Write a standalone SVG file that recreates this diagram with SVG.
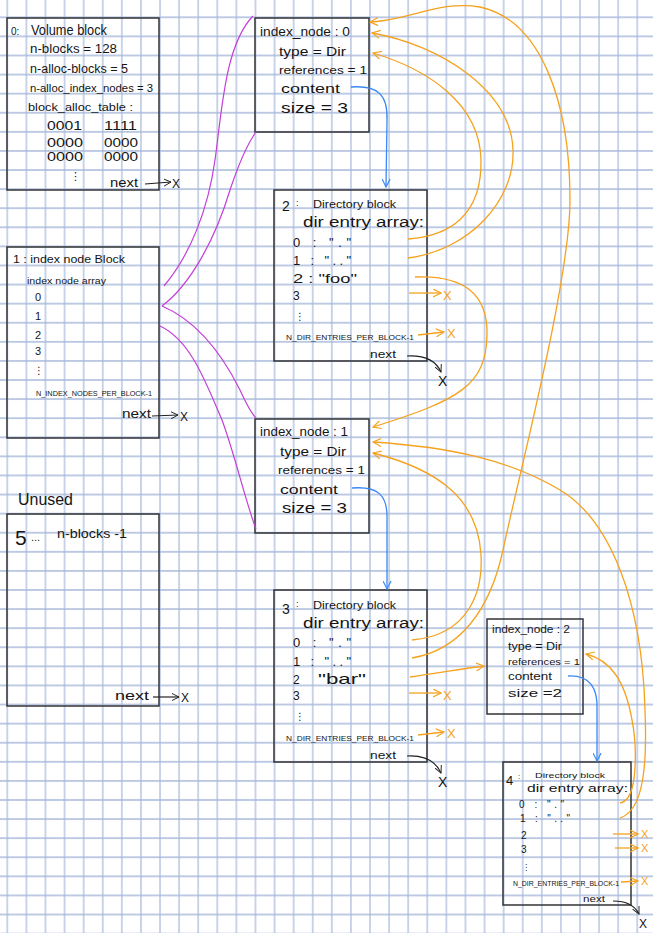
<svg xmlns="http://www.w3.org/2000/svg" width="653" height="933" viewBox="0 0 653 933">
<defs>
<pattern id="grid" x="-2.245" y="7.755" width="19.09" height="19.09" patternUnits="userSpaceOnUse">
<path d="M9.545,0 V19.09 M0,9.545 H19.09" stroke="#a6b8da" stroke-width="1.2" fill="none"/>
</pattern>
<marker id="ho" viewBox="0 0 10 10" refX="9" refY="5" markerWidth="9" markerHeight="9" markerUnits="userSpaceOnUse" orient="auto"><path d="M0,0.5 L9,5 L0,9.5" fill="none" stroke="#f5a21e" stroke-width="1.3"/></marker>
<marker id="hb" viewBox="0 0 10 10" refX="9" refY="5" markerWidth="9" markerHeight="9" markerUnits="userSpaceOnUse" orient="auto"><path d="M0,0.5 L9,5 L0,9.5" fill="none" stroke="#3b88f5" stroke-width="1.3"/></marker>
<marker id="hk" viewBox="0 0 10 10" refX="9" refY="5" markerWidth="8" markerHeight="8" markerUnits="userSpaceOnUse" orient="auto"><path d="M0,0.5 L9,5 L0,9.5" fill="none" stroke="#222" stroke-width="1.2"/></marker>
</defs>
<style>
.t{font-family:"Liberation Sans","DejaVu Sans",Arial,sans-serif;fill:#151515}
.d{font-family:"DejaVu Sans",sans-serif;fill:#151515}
.box{fill:none;stroke:#333;stroke-width:1.5}
.or{fill:none;stroke:#f5a21e;stroke-width:1.3}
.bl{fill:none;stroke:#3b88f5;stroke-width:1.3}
.pu{fill:none;stroke:#c23fd6;stroke-width:1.2}
.bk{fill:none;stroke:#222;stroke-width:1.2}
.ox{font-family:"Liberation Sans",Arial,sans-serif;fill:#f5a21e}
</style>
<rect width="653" height="933" fill="#ffffff"/>
<rect width="653" height="933" fill="url(#grid)"/>

<g id="volume-block">
<rect class="box" x="7" y="18" width="152" height="172"/>
<text class="t" x="11" y="35" font-size="10">0:</text>
<text class="t" x="31" y="35" font-size="14" textLength="76" lengthAdjust="spacingAndGlyphs">Volume block</text>
<text class="t" x="30" y="53" font-size="13" textLength="87" lengthAdjust="spacingAndGlyphs">n-blocks = 128</text>
<text class="t" x="30" y="73" font-size="12" textLength="98" lengthAdjust="spacingAndGlyphs">n-alloc-blocks = 5</text>
<text class="t" x="30" y="92" font-size="11" textLength="123" lengthAdjust="spacingAndGlyphs">n-alloc_index_nodes = 3</text>
<text class="t" x="28" y="111" font-size="11" textLength="105" lengthAdjust="spacingAndGlyphs">block_alloc_table :</text>
<text class="t" x="47" y="130" font-size="12" textLength="35" lengthAdjust="spacingAndGlyphs">0001</text>
<text class="t" x="104" y="130" font-size="12" textLength="33" lengthAdjust="spacingAndGlyphs">1111</text>
<text class="t" x="47" y="147" font-size="12" textLength="36" lengthAdjust="spacingAndGlyphs">0000</text>
<text class="t" x="104" y="147" font-size="12" textLength="34" lengthAdjust="spacingAndGlyphs">0000</text>
<text class="t" x="47" y="161" font-size="12" textLength="36" lengthAdjust="spacingAndGlyphs">0000</text>
<text class="t" x="104" y="161" font-size="12" textLength="34" lengthAdjust="spacingAndGlyphs">0000</text>
<text class="d" x="70" y="180" font-size="11">⋮</text>
<text class="t" x="110" y="187" font-size="13" textLength="28" lengthAdjust="spacingAndGlyphs">next</text>
<text class="t" x="172" y="188" font-size="12">X</text>
</g>

<g id="index-node-block">
<rect class="box" x="7" y="247" width="152" height="191"/>
<text class="t" x="13" y="263" font-size="11" textLength="112" lengthAdjust="spacingAndGlyphs">1 : index node Block</text>
<text class="t" x="27" y="284" font-size="9" textLength="79" lengthAdjust="spacingAndGlyphs">index node array</text>
<text class="t" x="35" y="301" font-size="11">0</text>
<text class="t" x="35" y="320" font-size="11">1</text>
<text class="t" x="35" y="339" font-size="11">2</text>
<text class="t" x="35" y="355" font-size="11">3</text>
<text class="d" x="34" y="374" font-size="10">⋮</text>
<text class="t" x="36" y="396" font-size="8" textLength="116" lengthAdjust="spacingAndGlyphs">N_INDEX_NODES_PER_BLOCK-1</text>
<text class="t" x="122" y="418" font-size="12" textLength="29" lengthAdjust="spacingAndGlyphs">next</text>
<text class="t" x="180" y="421" font-size="12">X</text>
</g>

<g id="unused">
<text class="t" x="18" y="505" font-size="16" textLength="55" lengthAdjust="spacingAndGlyphs">Unused</text>
<rect class="box" x="7" y="514" width="152" height="192"/>
<text class="t" x="15" y="545" font-size="21">5</text>
<text class="t" x="31" y="541" font-size="11">...</text>
<text class="t" x="57" y="538" font-size="13" textLength="70" lengthAdjust="spacingAndGlyphs">n-blocks -1</text>
<text class="t" x="115" y="700" font-size="13" textLength="34" lengthAdjust="spacingAndGlyphs">next</text>
<text class="t" x="181" y="702" font-size="12">X</text>
</g>

<g id="index-node-0">
<rect class="box" x="255" y="18" width="114" height="114"/>
<text class="t" x="260" y="36" font-size="12" textLength="90" lengthAdjust="spacingAndGlyphs">index_node : 0</text>
<text class="t" x="279" y="56" font-size="13" textLength="67" lengthAdjust="spacingAndGlyphs">type = Dir</text>
<text class="t" x="279" y="74" font-size="11" textLength="88" lengthAdjust="spacingAndGlyphs">references = 1</text>
<text class="t" x="281" y="93" font-size="12" textLength="59" lengthAdjust="spacingAndGlyphs">content</text>
<text class="t" x="281" y="113" font-size="15" textLength="67" lengthAdjust="spacingAndGlyphs">size = 3</text>
</g>

<g id="dir-block-2">
<rect class="box" x="274" y="190" width="153" height="171"/>
<text class="t" x="282" y="211" font-size="14">2</text>
<text class="t" x="296" y="206" font-size="9">:</text>
<text class="t" x="313" y="208" font-size="10" textLength="83" lengthAdjust="spacingAndGlyphs">Directory block</text>
<text class="t" x="303" y="227" font-size="14" textLength="121" lengthAdjust="spacingAndGlyphs">dir entry array:</text>
<text class="t" x="293" y="247" font-size="13" textLength="58" lengthAdjust="spacing">0 : "."</text>
<text class="t" x="293" y="265" font-size="13" textLength="58" lengthAdjust="spacing">1 : ".."</text>
<text class="t" x="293" y="283" font-size="12" textLength="64" lengthAdjust="spacingAndGlyphs">2 : "foo"</text>
<text class="t" x="293" y="300" font-size="12">3</text>
<text class="d" x="295" y="320" font-size="10">⋮</text>
<text class="t" x="286" y="340" font-size="8" textLength="128" lengthAdjust="spacingAndGlyphs">N_DIR_ENTRIES_PER_BLOCK-1</text>
<text class="t" x="370" y="358" font-size="10" textLength="26" lengthAdjust="spacingAndGlyphs">next</text>
<text class="t" x="438" y="386" font-size="14">X</text>
</g>

<g id="index-node-1">
<rect class="box" x="255" y="419" width="114" height="114"/>
<text class="t" x="260" y="436" font-size="12" textLength="88" lengthAdjust="spacingAndGlyphs">index_node : 1</text>
<text class="t" x="280" y="456" font-size="13" textLength="66" lengthAdjust="spacingAndGlyphs">type = Dir</text>
<text class="t" x="278" y="474" font-size="11" textLength="87" lengthAdjust="spacingAndGlyphs">references = 1</text>
<text class="t" x="280" y="494" font-size="12" textLength="58" lengthAdjust="spacingAndGlyphs">content</text>
<text class="t" x="282" y="513" font-size="15" textLength="65" lengthAdjust="spacingAndGlyphs">size = 3</text>
</g>

<g id="dir-block-3">
<rect class="box" x="274" y="590" width="153" height="172"/>
<text class="t" x="282" y="614" font-size="14">3</text>
<text class="t" x="296" y="607" font-size="9">:</text>
<text class="t" x="313" y="609" font-size="10" textLength="83" lengthAdjust="spacingAndGlyphs">Directory block</text>
<text class="t" x="303" y="628" font-size="14" textLength="121" lengthAdjust="spacingAndGlyphs">dir entry array:</text>
<text class="t" x="293" y="647" font-size="13" textLength="58" lengthAdjust="spacing">0 : "."</text>
<text class="t" x="293" y="666" font-size="13" textLength="58" lengthAdjust="spacing">1 : ".."</text>
<text class="t" x="293" y="684" font-size="12">2</text>
<text class="t" x="318" y="684" font-size="15" textLength="48" lengthAdjust="spacingAndGlyphs">"bar"</text>
<text class="t" x="293" y="700" font-size="12">3</text>
<text class="d" x="295" y="720" font-size="10">⋮</text>
<text class="t" x="286" y="741" font-size="8" textLength="128" lengthAdjust="spacingAndGlyphs">N_DIR_ENTRIES_PER_BLOCK-1</text>
<text class="t" x="370" y="759" font-size="10" textLength="26" lengthAdjust="spacingAndGlyphs">next</text>
<text class="t" x="438" y="787" font-size="14">X</text>
</g>

<g id="index-node-2">
<rect class="box" x="487" y="619" width="96" height="95"/>
<text class="t" x="492" y="633" font-size="10" textLength="78" lengthAdjust="spacingAndGlyphs">index_node : 2</text>
<text class="t" x="508" y="650" font-size="10" textLength="54" lengthAdjust="spacingAndGlyphs">type = Dir</text>
<text class="t" x="508" y="665" font-size="9" textLength="72" lengthAdjust="spacingAndGlyphs">references = 1</text>
<text class="t" x="508" y="680" font-size="10" textLength="44" lengthAdjust="spacingAndGlyphs">content</text>
<text class="t" x="508" y="697" font-size="11" textLength="54" lengthAdjust="spacingAndGlyphs">size =2</text>
</g>

<g id="dir-block-4">
<rect class="box" x="503" y="762" width="128" height="143"/>
<text class="t" x="506" y="785" font-size="13">4</text>
<text class="t" x="518" y="779" font-size="8">:</text>
<text class="t" x="535" y="778" font-size="8" textLength="70" lengthAdjust="spacingAndGlyphs">Directory block</text>
<text class="t" x="527" y="792" font-size="11" textLength="101" lengthAdjust="spacingAndGlyphs">dir entry array:</text>
<text class="t" x="519" y="808" font-size="10" textLength="45" lengthAdjust="spacing">0 : "."</text>
<text class="t" x="520" y="822" font-size="10" textLength="50" lengthAdjust="spacing">1 : ".."</text>
<text class="t" x="521" y="839" font-size="10">2</text>
<text class="t" x="521" y="853" font-size="10">3</text>
<text class="d" x="522" y="870" font-size="8">⋮</text>
<text class="t" x="513" y="886" font-size="7" textLength="106" lengthAdjust="spacingAndGlyphs">N_DIR_ENTRIES_PER_BLOCK-1</text>
<text class="t" x="583" y="902" font-size="9" textLength="22" lengthAdjust="spacingAndGlyphs">next</text>
<text class="t" x="639" y="928" font-size="12">X</text>
</g>

<g id="connectors">
<path class="bk" d="M145,184 L171,182" marker-end="url(#hk)"/>
<path class="bk" d="M152,416 L178,415" marker-end="url(#hk)"/>
<path class="bk" d="M153,697 L179,697" marker-end="url(#hk)"/>
<path class="bk" d="M407,356 C425,355 436,361 441,372" marker-end="url(#hk)"/>
<path class="bk" d="M407,756 C425,755 436,762 441,773" marker-end="url(#hk)"/>
<path class="bk" d="M613,901 C628,901 635,906 639,914" marker-end="url(#hk)"/>
<path class="pu" d="M164,286 C190,255 208,210 215,160 C222,110 225,45 253,16"/>
<path class="pu" d="M162,306 C190,285 215,240 230,190 C240,160 248,143 256,132"/>
<path class="pu" d="M162,306 C195,320 220,350 240,390 C246,403 250,412 256,418"/>
<path class="pu" d="M160,326 C190,340 205,380 222,420 C235,455 245,500 256,529"/>
<path class="bl" d="M351,87 C378,85 388,95 387,120 L386,187" marker-end="url(#hb)"/>
<path class="bl" d="M352,488 C378,486 388,495 387,520 L387,589" marker-end="url(#hb)"/>
<path class="bl" d="M568,676 C590,675 598,688 597,710 L597,761" marker-end="url(#hb)"/>
<path class="or" d="M408,239 C450,236 482,215 481,160 C480,105 430,70 373,53" marker-end="url(#ho)"/>
<path class="or" d="M408,258 C470,250 515,200 513,150 C511,90 440,45 372,33" marker-end="url(#ho)"/>
<path class="or" d="M415,277 C465,275 488,295 487,335 C486,385 460,400 373,427" marker-end="url(#ho)"/>
<path class="or" d="M412,658 C460,650 490,610 503,550 C520,470 570,280 570,200 C570,100 540,20 480,7 C440,0 410,20 370,22" marker-end="url(#ho)"/>
<path class="or" d="M412,640 C470,635 483,590 481,555 C478,500 440,470 373,453" marker-end="url(#ho)"/>
<path class="or" d="M410,677 C440,673 460,669 484,666" marker-end="url(#ho)"/>
<path class="or" d="M620,803 C640,800 636,740 632,720 C625,680 610,660 586,654" marker-end="url(#ho)"/>
<path class="or" d="M620,818 C645,810 647,760 645,710 C642,600 610,520 560,490 C510,460 450,447 373,442" marker-end="url(#ho)"/>
<path class="or" d="M409,293 L441,293" marker-end="url(#ho)"/>
<path class="or" d="M418,335 L444,332" marker-end="url(#ho)"/>
<path class="or" d="M409,693 L441,693" marker-end="url(#ho)"/>
<path class="or" d="M418,735 L444,732" marker-end="url(#ho)"/>
<path class="or" d="M613,834 L638,834" marker-end="url(#ho)"/>
<path class="or" d="M615,848 L638,848" marker-end="url(#ho)"/>
<path class="or" d="M621,882 L638,881" marker-end="url(#ho)"/>
<text class="ox" x="443" y="300" font-size="13">X</text>
<text class="ox" x="447" y="338" font-size="13">X</text>
<text class="ox" x="443" y="700" font-size="13">X</text>
<text class="ox" x="447" y="738" font-size="13">X</text>
<text class="ox" x="641" y="838" font-size="11">X</text>
<text class="ox" x="641" y="852" font-size="11">X</text>
<text class="ox" x="641" y="885" font-size="11">X</text>
</g>
</svg>
